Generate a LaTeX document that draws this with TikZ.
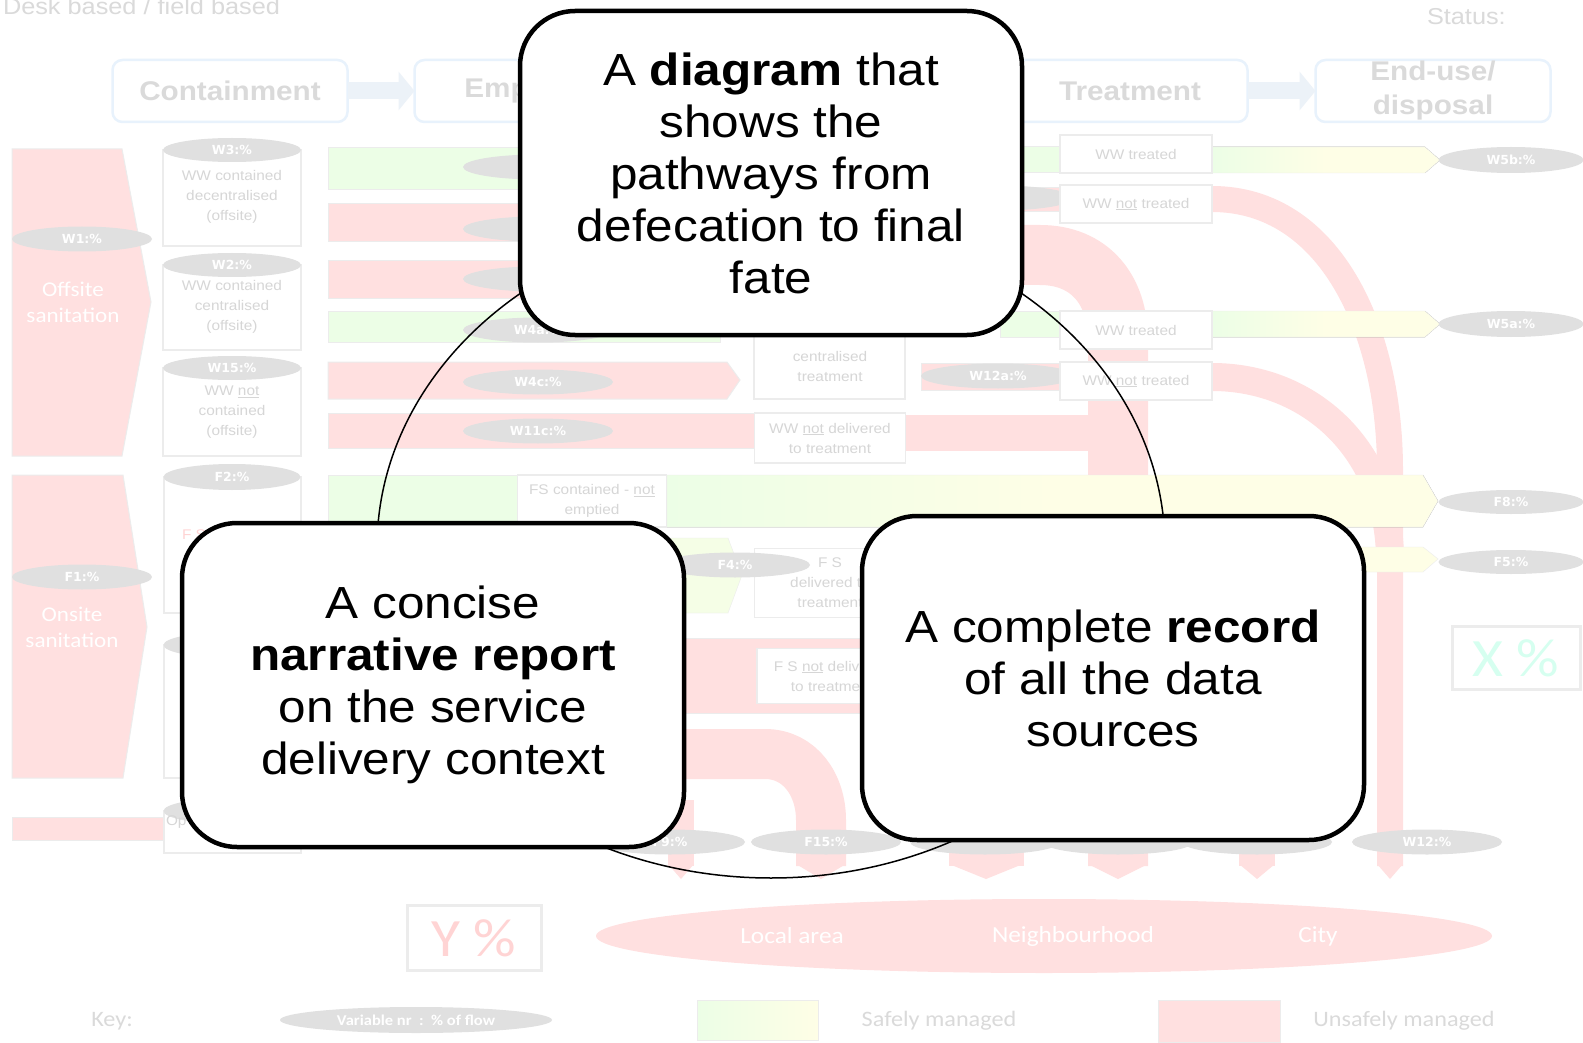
\documentclass[tikz,border=0pt]{standalone}
\usepackage{fontspec}
\setmainfont{Liberation Sans}
\newfontfamily\boxfont[FakeStretch=1.1]{Liberation Sans}
\newfontfamily\calfont[FakeStretch=1.1]{Carlito}
\newfontfamily\tagfont{DejaVu Sans}
\usetikzlibrary{arrows.meta,shapes.geometric,positioning}
\definecolor{sfdpink}{RGB}{255,224,224}
\definecolor{sfdgreen}{RGB}{236,254,230}
\definecolor{sfdyellow}{RGB}{254,254,230}
\definecolor{sfdgray}{RGB}{224,224,224}
\definecolor{sfdedge}{RGB}{236,236,236}
\definecolor{sfdtext}{RGB}{214,214,214}
\definecolor{headline}{RGB}{232,242,252}
\definecolor{headarrow}{RGB}{236,242,248}
\definecolor{headtext}{RGB}{218,218,218}
\definecolor{pinktext}{RGB}{255,212,212}
\definecolor{minttext}{RGB}{214,255,240}
\begin{document}
\begin{tikzpicture}[x=1pt,y=-1pt,inner sep=0pt,outer sep=0pt,
callout/.style={draw=black,fill=white,line width=4.5pt,rounded corners=55pt,minimum width=502pt,minimum height=324pt,align=center,font=\boxfont\fontsize{45}{52}\selectfont},
flowtag/.style={ellipse,fill=sfdgray,text=white,minimum width=150pt,minimum height=25pt,font=\tagfont\bfseries\fontsize{12.5}{14}\selectfont},
sfdframe/.style={draw=sfdedge,fill=white,line width=1.2pt},
sfdlabel/.style={text=sfdtext,align=center,font=\boxfont\fontsize{14}{20}\selectfont},
stagebox/.style={sfdframe,sfdlabel,minimum width=152pt,minimum height=38pt},
headbox/.style={draw=headline,line width=2.5pt,rounded corners=10pt,minimum width=235pt,minimum height=62pt,text=headtext,align=center,font=\boxfont\bfseries\fontsize{27}{34}\selectfont},
headflow/.style={draw=headarrow,line width=17pt,-{Triangle[length=16pt,width=38pt]}},
unsafe/.style={fill=sfdpink,draw=sfdedge,line width=1pt},
safe/.style={fill=sfdgreen,draw=sfdedge,line width=1pt},
band/.style={draw=sfdpink,line cap=butt},
keytext/.style={text=headtext,font=\calfont\fontsize{22}{26}\selectfont}]
\useasboundingbox (0,0) rectangle (1583,1043);
\fill[white] (0,0) rectangle (1583,1043);

% headings
\node[anchor=base west,text=headtext,font=\boxfont\fontsize{23}{26}\selectfont] (mode) at (3,15) {Desk based / field based};
\node[anchor=base west,text=headtext,font=\boxfont\fontsize{23}{26}\selectfont] (status) at (1427,25) {Status:};
\node[headbox] (containment) at (230,91) {Containment};
\node[headbox] (emptying) at (532,91) {Emptying};
\node[headbox] (treatment) at (1130,91) {Treatment};
\node[headbox] (enduse) at (1433,91) {End-use/\\disposal};
\draw[headflow] (containment) -- (emptying);
\draw[headflow] (treatment) -- (enduse);

% sanitation systems
\filldraw[unsafe] (12,149) -- (122,149) -- (151,302) -- (122,456) -- (12,456) -- cycle;
\node[text=white,align=center,font=\calfont\fontsize{21}{26}\selectfont] (offsite) at (73,302) {Offsite\\sanitation};
\node[flowtag,minimum width=140pt] (w1) at (82,239) {W1:\%};
\filldraw[unsafe] (12,475) -- (123,475) -- (147,627) -- (123,778) -- (12,778) -- cycle;
\node[text=white,align=center,font=\calfont\fontsize{21}{26}\selectfont] (onsite) at (72,627) {Onsite\\sanitation};
\node[flowtag,minimum width=140pt] (f1) at (82,577) {F1:\%};
\filldraw[unsafe] (12,817) rectangle (163,840);

% containment
\draw[sfdframe] (163,150) rectangle (301,246);
\node[flowtag,minimum width=138pt,minimum height=24pt] (w3) at (232,150) {W3:\%};
\node[sfdlabel] (w3text) at (232,197) {WW contained\\decentralised\\(offsite)};
\draw[sfdframe] (163,265) rectangle (301,350);
\node[flowtag,minimum width=138pt,minimum height=24pt] (w2) at (232,265) {W2:\%};
\node[sfdlabel] (w2text) at (232,307) {WW contained\\centralised\\(offsite)};
\draw[sfdframe] (163,368) rectangle (301,456);
\node[flowtag,minimum width=138pt,minimum height=24pt] (w15) at (232,368) {W15:\%};
\node[sfdlabel] (w15text) at (232,412) {WW \underline{not}\\contained\\(offsite)};
\draw[sfdframe] (164,477) rectangle (301,613);
\node[flowtag,minimum width=137pt,minimum height=26pt] (f2) at (232,477) {F2:\%};
\node[anchor=west,text=pinktext,font=\boxfont\fontsize{14}{20}\selectfont] (f2text) at (182,535) {F S};
\draw[sfdframe] (164,645) rectangle (301,778);
\node[flowtag,minimum width=137pt,minimum height=26pt] (f3) at (232,645) {};
\draw[sfdframe] (164,811) rectangle (301,853);
\node[flowtag,minimum width=137pt,minimum height=26pt] (f6) at (232,811) {};
\node[anchor=west,sfdlabel] (optext) at (166,822) {Op};

% flow bands
\draw[band,line width=60pt] (900,255) -- (1040,255) .. controls (1090,255) and (1118,290) .. (1118,340) -- (1118,866);
\draw[band,line width=26pt] (1212,199) .. controls (1330,199) and (1390,330) .. (1390,470) -- (1390,866);
\draw[band,line width=28pt] (1212,377) .. controls (1310,377) and (1390,450) .. (1390,560);
\draw[band,line width=50pt] (600,754) -- (765,754) .. controls (800,754) and (821,785) .. (821,820) -- (821,866);
\draw[band,line width=26pt] (681,800) -- (681,866);
\draw[band,line width=75pt] (986,700) -- (986,866);
\draw[band,line width=36pt] (1257,700) -- (1257,866);
\foreach \cx/\hw in {681/13,821/25,986/37,1118/30,1257/18,1390/13}
  \fill[sfdpink] (\cx-\hw,864) -- (\cx+\hw,864) -- (\cx,879) -- cycle;

% emptying
\filldraw[safe] (328,148) rectangle (720,190);
\filldraw[unsafe] (328,204) rectangle (720,242);
\filldraw[unsafe] (328,261) rectangle (720,298);
\filldraw[safe] (328,311) rectangle (720,342);
\filldraw[unsafe] (328,362) -- (727,362) -- (740,380) -- (727,399) -- (328,399) -- cycle;
\filldraw[unsafe] (328,413) rectangle (756,448);
\fill[sfdpink] (906,415) rectangle (1100,451);
\node[flowtag] (e1) at (538,167) {};
\node[flowtag] (e2) at (538,229) {};
\node[flowtag] (e3) at (538,279) {};
\node[flowtag] (w4a) at (538,330) {W4a:\%};
\node[flowtag] (w4c) at (538,382) {W4c:\%};
\node[flowtag] (w11c) at (538,431) {W11c:\%};

% transport
\draw[sfdframe] (754,300) rectangle (905,399);
\node[sfdlabel] (cttext) at (830,366) {centralised\\treatment};
\node[stagebox,minimum width=151pt,minimum height=50pt] (wwnd) at (830,438) {WW \underline{not} delivered\\to treatment};
\filldraw[unsafe] (921,363) rectangle (1060,390);
\node[flowtag,minimum width=154pt] (w12a) at (998,376) {W12a:\%};
\filldraw[unsafe] (921,188) rectangle (1060,212);
\node[flowtag] (w12b) at (998,198) {};

% treatment
\filldraw[safe] (1000,147) rectangle (1060,173);
\filldraw[safe] (1000,311) rectangle (1060,337);
\filldraw[draw=sfdedge,left color=sfdgreen,right color=sfdyellow,middle color=sfdyellow] (1212,147) -- (1425,147) -- (1440,160) -- (1425,173) -- (1212,173) -- cycle;
\filldraw[draw=sfdedge,left color=sfdgreen,right color=sfdyellow,middle color=sfdyellow] (1212,311) -- (1425,311) -- (1440,324) -- (1425,337) -- (1212,337) -- cycle;
\node[stagebox] (wwt1) at (1136,154) {WW treated};
\node[stagebox] (wwn1) at (1136,204) {WW \underline{not} treated};
\node[stagebox] (wwt2) at (1136,330) {WW treated};
\node[stagebox] (wwn2) at (1136,381) {WW \underline{not} treated};
\node[flowtag,minimum width=145pt,minimum height=26pt] (w5b) at (1511,160) {W5b:\%};
\node[flowtag,minimum width=145pt,minimum height=26pt] (w5a) at (1511,324) {W5a:\%};

% faecal sludge
\filldraw[safe] (328,475) rectangle (518,527);
\filldraw[draw=sfdedge,left color=sfdgreen,right color=sfdyellow,middle color=sfdyellow] (667,475) -- (1423,475) -- (1438,501) -- (1423,527) -- (667,527) -- cycle;
\node[stagebox,minimum width=149pt,minimum height=52pt] (fsne) at (592,501) {FS contained - \underline{not}\\emptied};
\filldraw[draw=sfdedge,fill=sfdyellow] (1200,547) -- (1423,547) -- (1438,559) -- (1423,572) -- (1200,572) -- cycle;
\node[flowtag,minimum width=145pt,minimum height=24pt] (f8) at (1511,502) {F8:\%};
\node[flowtag,minimum width=145pt,minimum height=24pt] (f5) at (1511,562) {F5:\%};
\filldraw[draw=sfdedge,fill=sfdgreen!50!sfdyellow] (660,538) -- (728,538) -- (742,575) -- (728,613) -- (660,613) -- cycle;
\node[stagebox,minimum width=151pt,minimum height=69pt] (fsd) at (830,583) {F S\\delivered to\\treatment};
\node[flowtag] (f4) at (735,565) {F4:\%};
\filldraw[unsafe] (640,638) rectangle (870,713);
\node[stagebox,minimum width=150pt,minimum height=55pt] (fsnd) at (832,676) {F S \underline{not} delivered\\to treatment};

% fate
\node[flowtag] (f9) at (670,842) {F9:\%};
\node[flowtag] (f15) at (826,842) {F15:\%};
\node[flowtag] (g1) at (985,842) {};
\node[flowtag] (g2) at (1118,842) {};
\node[flowtag] (g3) at (1257,842) {};
\node[flowtag] (w12) at (1427,842) {W12:\%};
\node[draw=sfdedge,line width=3pt,minimum width=128pt,minimum height=63pt,text=minttext,font=\calfont\fontsize{54}{60}\selectfont] (xpct) at (1516,658) {X \%};
\node[draw=sfdedge,line width=3pt,minimum width=134pt,minimum height=65pt,text=pinktext,font=\calfont\fontsize{54}{60}\selectfont] (ypct) at (474,938) {Y \%};
\fill[sfdpink] (1044,936) ellipse [x radius=448pt, y radius=37pt];
\node[text=white,font=\calfont\fontsize{23}{26}\selectfont] (local) at (792,936) {Local area};
\node[text=white,font=\calfont\fontsize{23}{26}\selectfont] (neighbour) at (1073,936) {Neighbourhood};
\node[text=white,font=\calfont\fontsize{23}{26}\selectfont] (city) at (1318,936) {City};

% key
\node[keytext] (key) at (112,1021) {Key:};
\node[ellipse,fill=sfdgray,text=white,minimum width=272pt,minimum height=26pt,font=\calfont\bfseries\fontsize{15}{18}\selectfont] (keytag) at (416,1020) {Variable nr~~:~~\% of flow};
\filldraw[draw=sfdedge,left color=sfdgreen,right color=sfdyellow] (697,1000) rectangle (818,1040);
\node[keytext] (safekey) at (939,1021) {Safely managed};
\filldraw[unsafe] (1158,1000) rectangle (1280,1042);
\node[keytext] (unsafekey) at (1404,1021) {Unsafely managed};

% the three parts
\coordinate (hub) at (771,548);
\draw[line width=1.5pt] (hub) ellipse [x radius=394pt, y radius=330pt];
\node[callout] (diagram) at (771,173) {A \textbf{diagram} that\\shows the\\pathways from\\defecation to final\\fate};
\node[callout] (narrative) at (433,685) {A concise\\\textbf{narrative report}\\on the service\\delivery context};
\node[callout] (record) at (1113,678) {A complete \textbf{record}\\of all the data\\sources};
\end{tikzpicture}
\end{document}
